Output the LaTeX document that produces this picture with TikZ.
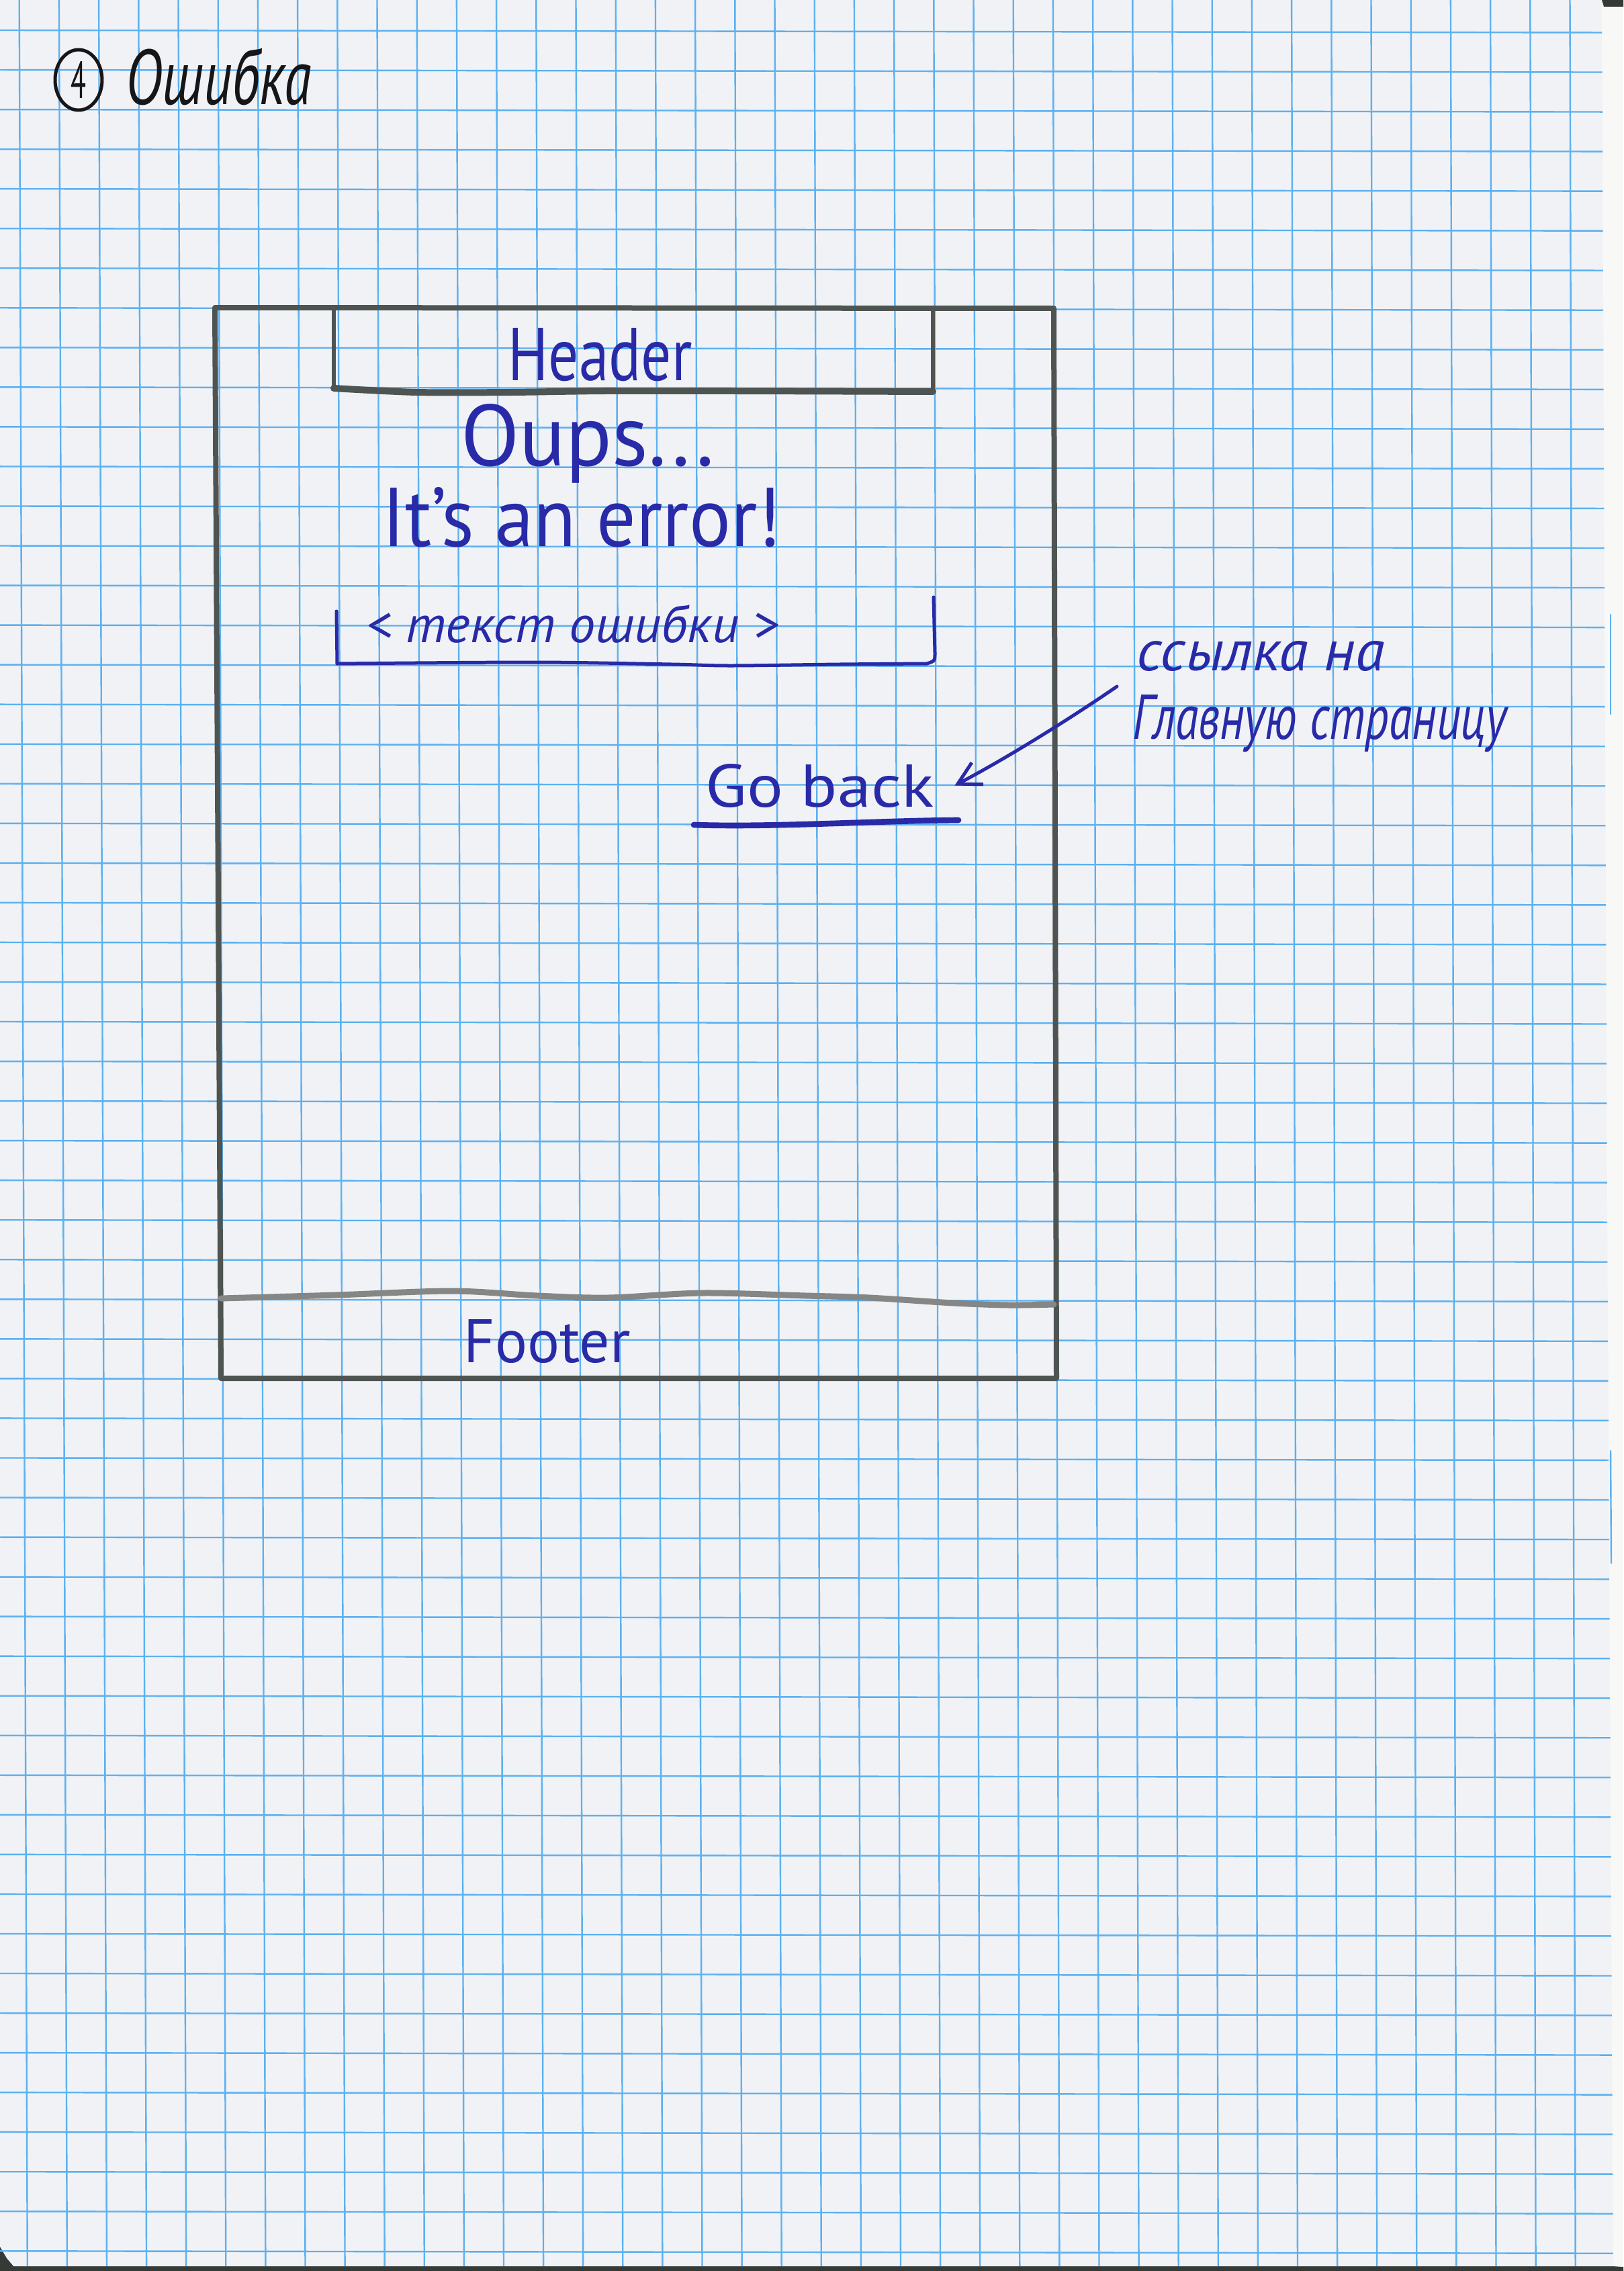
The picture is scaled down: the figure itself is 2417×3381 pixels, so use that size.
\documentclass[tikz,border=0pt]{standalone}
\usepackage{fontspec}
\setmainfont{PT Sans}
\usepackage{graphicx}
\usetikzlibrary{arrows.meta,shapes.geometric}

% one drawing unit = one pixel of the sheet
\newlength\pxu
\setlength\pxu{0.3pt}
\newcommand\fitpx[3]{\resizebox{#1\pxu}{#2\pxu}{#3}}

\definecolor{paper}{RGB}{241,242,245}
\definecolor{scanbg}{RGB}{248,248,247}
\definecolor{gridblue}{RGB}{92,177,241}
\definecolor{pencil}{RGB}{78,84,82}
\definecolor{pencillight}{RGB}{132,135,133}
\definecolor{penblue}{RGB}{40,42,168}
\definecolor{inkblack}{RGB}{22,22,24}
\definecolor{scanedge}{RGB}{52,58,54}

\begin{document}
\begin{tikzpicture}[x=0.3pt, y=-0.3pt, line cap=round, line join=round,
  gridline/.style={gridblue, line width=0.72pt},
  pencilline/.style={pencil, line width=2.4pt},
  penline/.style={penblue, line width=1.5pt},
  hand/.style={inner sep=0pt, anchor=base west, text=penblue}]

\useasboundingbox (0,0) rectangle (2417,3381);

% sheet of squared paper on the scanner bed
\fill[scanbg] (0,0) rectangle (2417,3381);
\fill[paper] (0,0) -- (2385,0) -- (2393,1800) -- (2402,3374) -- (0,3374) -- cycle;
\fill[scanedge] (0,3374) -- (2402,3374) -- (2417,3375) -- (2417,3381) -- (0,3381) -- cycle;
\fill[scanedge] (2385,0) -- (2417,0) -- (2417,10) -- (2388,10) -- cycle;
\fill[scanedge] (0,3345) -- (10,3362) -- (26,3381) -- (0,3381) -- cycle;

\begin{scope}
  \clip (0,0) -- (2385,0) -- (2393,1800) -- (2402,3374) -- (0,3374) -- cycle;
  \foreach \k in {0,...,39}
    \draw[gridline] ({28.7+59.2*\k},0) -- ({40.8+59.1*\k},3376);
  \foreach \k in {0,...,56}
    \draw[gridline] (0,{45+59.04*\k}) -- (2402,{48.5+59.04*\k});
\end{scope}
% torn perforation flaps at the right edge
\draw[gridline] (2398,915) -- (2398,1063);
\draw[gridline] (2398,2160) -- (2399,2327);

% title
\node[ellipse, draw=inkblack, line width=1.5pt, inner sep=0pt,
      minimum width=21pt, minimum height=27pt, text=inkblack] (num) at (117,119) {\fitpx{23}{55}{4}};
\node[hand, text=inkblack, font=\itshape] (title) at (187,156) {\fitpx{276}{84}{Ошибка}};

% page frame
\draw[pencilline] (320,458) -- (1569,459) -- (1573,2052) -- (329,2052) -- cycle;

% header block
\draw[pencil, line width=1.8pt] (497,460) -- (497,579);
\draw[pencil, line width=1.8pt] (1389,460) -- (1389,583);
\draw[pencil, line width=3pt] plot[smooth] coordinates {(497,578) (620,584) (760,584) (900,582) (1100,582) (1389,583)};
\node[hand] (header) at (756,566) {\fitpx{274}{78}{Header}};

% error message
\node[hand] (oups) at (686,693) {\fitpx{377}{92}{Oups...}};
\node[hand] (itserr) at (569,813) {\fitpx{593}{88}{It's an error!}};

% error text field
\draw[penline] (501,910) -- (502,988);
\draw[penline] plot[smooth] coordinates {(502,988) (797,986) (1000,989) (1088,991) (1250,989) (1380,988)};
\draw[penline] (1390,889) -- (1392,972) .. controls (1392,984) .. (1380,988);
\node[hand, font=\itshape] (errtext) at (545,956) {\fitpx{613}{56}{< текст ошибки >}};

% link back
\node[hand, inner xsep=9pt] (goback) at (1020,1201) {\fitpx{340}{64}{Go back}};
\draw[penblue, line width=2.6pt] (1033,1228) .. controls (1150,1232) and (1300,1222) .. (1427,1221);

% annotation
\node[hand, font=\itshape] (note1) at (1692,998) {\fitpx{369}{44}{ссылка на}};
\node[hand, font=\itshape] (note2) at (1686,1100) {\fitpx{556}{66}{Главную страницу}};
\coordinate (linkfrom) at (1663,1022);
\draw[penline, -{Straight Barb[length=10pt, width=11pt]}] (linkfrom) .. controls (1590,1072) and (1500,1128) .. (goback.east);

% footer block
\draw[pencillight, line width=2.7pt] plot[smooth] coordinates {(329,1933) (500,1928) (673,1922) (800,1929) (905,1932) (1046,1925) (1200,1929) (1295,1932) (1420,1940) (1502,1943) (1569,1942)};
\node[hand] (footer) at (690,2028) {\fitpx{248}{64}{Footer}};

\end{tikzpicture}
\end{document}
